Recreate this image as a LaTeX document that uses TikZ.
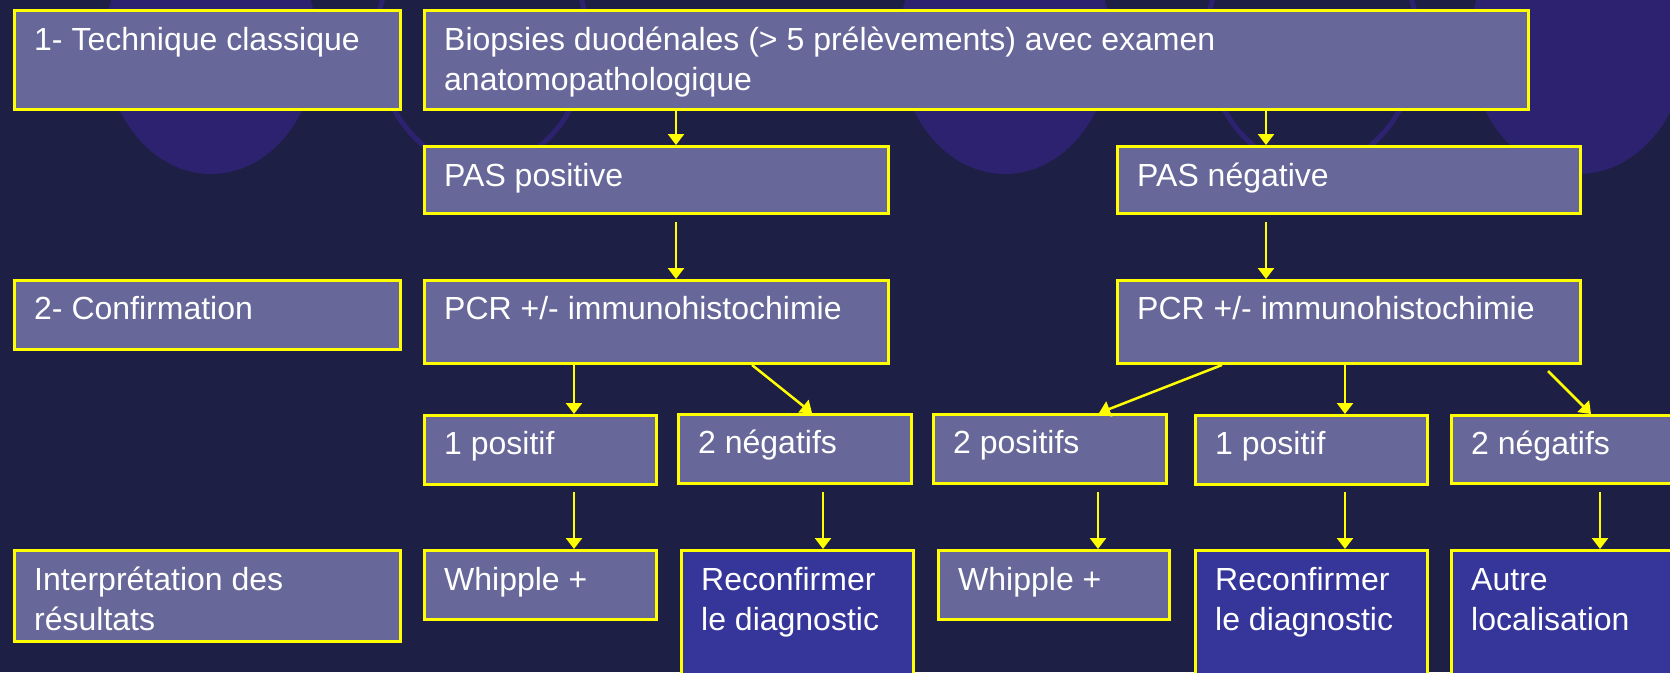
\documentclass[tikz,border=0pt]{standalone}
\usepackage{fontspec}
\setmainfont{Liberation Sans}
\usetikzlibrary{arrows.meta,calc}
\definecolor{bgc}{HTML}{1D1F45}
\definecolor{circ}{HTML}{2D2270}
\definecolor{boxc}{HTML}{67679A}
\definecolor{darkc}{HTML}{35359A}
\definecolor{yel}{HTML}{FFFF00}
\begin{document}
\begin{tikzpicture}[x=1pt,y=-1pt,
 box/.style={draw=yel, line width=3pt, fill=boxc, rectangle, inner sep=0pt, anchor=north west},
 dbox/.style={box, fill=darkc},
 txt/.style={text=white, font=\fontsize{32}{40}\selectfont, inner sep=0pt, anchor=base west, align=left},
 arr/.style={draw=yel, line width=2.5pt, -{Triangle[length=11pt,width=16pt]}},
 ]
\useasboundingbox (0,0) rectangle (1670,672);
\clip (0,0) rectangle (1670,672);
\fill[bgc] (0,0) rectangle (1670,672);
% background circles
\fill[circ] (211,44) ellipse [x radius=106, y radius=130];
\draw[circ, line width=5pt] (482,40) ellipse [x radius=105, y radius=127];
\fill[circ] (1005,44) ellipse [x radius=106, y radius=130];
\draw[circ, line width=5pt] (1312,40) ellipse [x radius=105, y radius=127];
\fill[circ] (1578,44) ellipse [x radius=108, y radius=130];
% boxes
\node[box, minimum width=386pt, minimum height=99pt] (t1) at (13,9) {};
\node[box, minimum width=1104pt, minimum height=99pt] (bio) at (423,9) {};
\node[box, minimum width=464pt, minimum height=67pt] (pasp) at (423,145) {};
\node[box, minimum width=463pt, minimum height=67pt] (pasn) at (1116,145) {};
\node[box, minimum width=386pt, minimum height=69pt] (t2) at (13,279) {};
\node[box, minimum width=464pt, minimum height=83pt] (pcrL) at (423,279) {};
\node[box, minimum width=463pt, minimum height=83pt] (pcrR) at (1116,279) {};
\node[box, minimum width=232pt, minimum height=69pt] (pos1L) at (423,414) {};
\node[box, minimum width=233pt, minimum height=69pt] (neg2L) at (677,413) {};
\node[box, minimum width=233pt, minimum height=69pt] (pos2) at (932,413) {};
\node[box, minimum width=232pt, minimum height=69pt] (pos1R) at (1194,414) {};
\node[box, minimum width=250pt, minimum height=68pt] (neg2R) at (1450,414) {};
\node[box, minimum width=386pt, minimum height=91pt] (t3) at (13,549) {};
\node[box, minimum width=232pt, minimum height=69pt] (whipL) at (423,549) {};
\node[dbox, minimum width=232pt, minimum height=150pt] (recL) at (680,549) {};
\node[box, minimum width=231pt, minimum height=69pt] (whipR) at (937,549) {};
\node[dbox, minimum width=232pt, minimum height=150pt] (recR) at (1194,549) {};
\node[dbox, minimum width=250pt, minimum height=150pt] (autre) at (1450,549) {};
% texts
\node[txt] (t1-t) at ([shift={(21,41)}]t1.north west) {1- Technique classique};
\node[txt] (bio-t) at ([shift={(21,81)}]bio.north west) {Biopsies duodénales (> 5 prélèvements) avec examen\\anatomopathologique};
\node[txt] (pasp-t) at ([shift={(21,41)}]pasp.north west) {PAS positive};
\node[txt] (pasn-t) at ([shift={(21,41)}]pasn.north west) {PAS négative};
\node[txt] (t2-t) at ([shift={(21,40)}]t2.north west) {2- Confirmation};
\node[txt] (pcrL-t) at ([shift={(21,40)}]pcrL.north west) {PCR +/- immunohistochimie};
\node[txt] (pcrR-t) at ([shift={(21,40)}]pcrR.north west) {PCR +/- immunohistochimie};
\node[txt] (pos1L-t) at ([shift={(21,40)}]pos1L.north west) {1 positif};
\node[txt] (neg2L-t) at ([shift={(21,40)}]neg2L.north west) {2 négatifs};
\node[txt] (pos2-t) at ([shift={(21,40)}]pos2.north west) {2 positifs};
\node[txt] (pos1R-t) at ([shift={(21,40)}]pos1R.north west) {1 positif};
\node[txt] (neg2R-t) at ([shift={(21,40)}]neg2R.north west) {2 négatifs};
\node[txt] (t3-t) at ([shift={(21,81)}]t3.north west) {Interprétation des\\résultats};
\node[txt] (whipL-t) at ([shift={(21,41)}]whipL.north west) {Whipple +};
\node[txt] (recL-t) at ([shift={(21,81)}]recL.north west) {Reconfirmer\\le diagnostic};
\node[txt] (whipR-t) at ([shift={(21,41)}]whipR.north west) {Whipple +};
\node[txt] (recR-t) at ([shift={(21,81)}]recR.north west) {Reconfirmer\\le diagnostic};
\node[txt] (autre-t) at ([shift={(21,81)}]autre.north west) {Autre\\localisation};
% arrows
\draw[arr] ([xshift=253pt]bio.south west) -- ([xshift=253pt]pasp.north west);
\draw[arr] ([xshift=843pt]bio.south west) -- ([xshift=150pt]pasn.north west);
\draw[arr] ([shift={(253,7)}]pasp.south west) -- ([xshift=253pt]pcrL.north west);
\draw[arr] ([shift={(150,7)}]pasn.south west) -- ([xshift=150pt]pcrR.north west);
\draw[arr] ([xshift=151pt]pcrL.south west) -- ([xshift=151pt]pos1L.north west);
\draw[arr] ([xshift=329pt]pcrL.south west) -- ([xshift=135pt]neg2L.north west);
\draw[arr] ([xshift=106pt]pcrR.south west) -- ([xshift=167pt]pos2.north west);
\draw[arr] ([xshift=229pt]pcrR.south west) -- ([xshift=151pt]pos1R.north west);
\draw[arr] ([shift={(432,6)}]pcrR.south west) -- ([xshift=141pt]neg2R.north west);
\draw[arr] ([shift={(151,6)}]pos1L.south west) -- ([xshift=151pt]whipL.north west);
\draw[arr] ([shift={(146,7)}]neg2L.south west) -- ([xshift=143pt]recL.north west);
\draw[arr] ([shift={(166,7)}]pos2.south west) -- ([xshift=161pt]whipR.north west);
\draw[arr] ([shift={(151,6)}]pos1R.south west) -- ([xshift=151pt]recR.north west);
\draw[arr] ([shift={(150,7)}]neg2R.south west) -- ([xshift=150pt]autre.north west);
\end{tikzpicture}
\end{document}
